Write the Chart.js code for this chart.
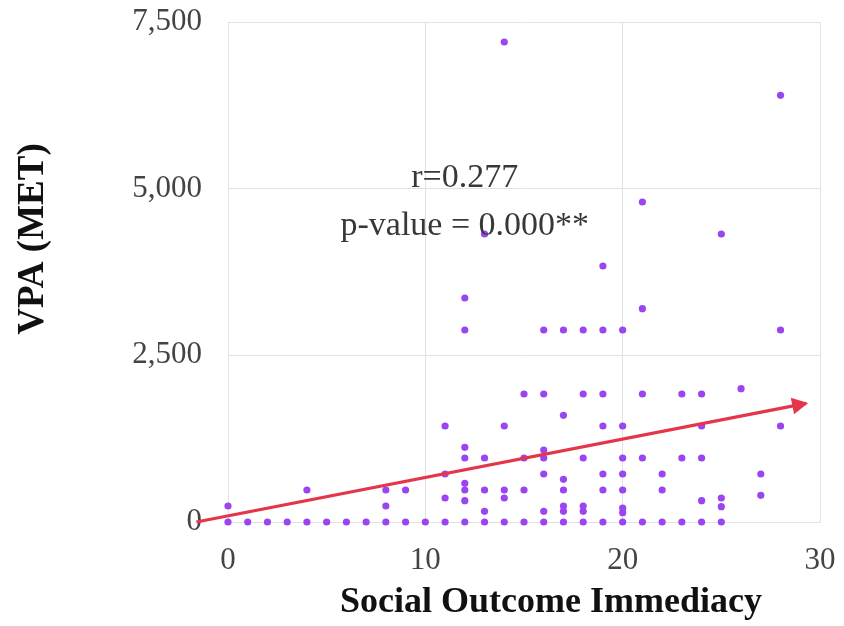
<!DOCTYPE html>
<html>
<head>
<meta charset="utf-8">
<script src="https://cdn.jsdelivr.net/npm/chart.js@4.4.1/dist/chart.umd.min.js"></script>
<style>
  html, body { margin: 0; padding: 0; background: #ffffff; }
  #wrap { width: 844px; height: 626px; position: relative; }
</style>
</head>
<body>
<div id="wrap"><canvas id="chart"></canvas></div>
<script>
// Social outcome immediacy score for each respondent
const immediacy = [
  0, 0,
  1, 2, 3,
  4, 4,
  5, 6, 7,
  8, 8, 8,
  9, 9,
  10,
  11, 11, 11, 11,
  12, 12, 12, 12, 12, 12, 12, 12,
  13, 13, 13, 13, 13,
  14, 14, 14, 14, 14,
  15, 15, 15, 15,
  16, 16, 16, 16, 16, 16, 16,
  17, 17, 17, 17, 17, 17, 17,
  18, 18, 18, 18, 18, 18,
  19, 19, 19, 19, 19, 19, 19,
  20, 20, 20, 20, 20, 20, 20, 20,
  21, 21, 21, 21, 21,
  22, 22, 22,
  23, 23, 23,
  24, 24, 24, 24, 24,
  25, 25, 25, 25,
  26,
  27, 27,
  28, 28, 28
];

// Vigorous physical activity (MET-minutes/week) for the same respondents
const vpa = [
  240, 0,
  0, 0, 0,
  480, 0,
  0, 0, 0,
  480, 240, 0,
  480, 0,
  0,
  1440, 720, 360, 0,
  3360, 2880, 1120, 960, 580, 480, 320, 0,
  4320, 960, 480, 160, 0,
  7200, 1440, 480, 360, 0,
  1920, 960, 480, 0,
  2880, 1920, 1080, 960, 720, 160, 0,
  2880, 1600, 640, 480, 240, 160, 0,
  2880, 1920, 960, 240, 160, 0,
  3840, 2880, 1920, 1440, 720, 480, 0,
  2880, 1440, 960, 720, 480, 210, 140, 0,
  4800, 3200, 1920, 960, 0,
  720, 480, 0,
  1920, 960, 0,
  1920, 1440, 960, 320, 0,
  4320, 360, 230, 0,
  2000,
  720, 400,
  6400, 2880, 1440
];

// Fitted trend, drawn as an arrow
const trendX = [-1.6, 29.3];
const trendY = [0, 1780];

// Axis ticks
const xTicks = [0, 10, 20, 30];
const yTicks = [0, 2500, 5000, 7500];

// Axis titles and correlation summary
const xTitle = 'Social Outcome Immediacy';
const yTitle = 'VPA (MET)';
const statLines = ['r=0.277', 'p-value = 0.000**'];

const points = immediacy.map((x, i) => ({ x: x, y: vpa[i] }));
const trend = trendX.map((x, i) => ({ x: x, y: trendY[i] }));

const SERIF = "'Liberation Serif', 'Times New Roman', Times, serif";
const PURPLE = '#9b45f2';
const RED = '#e5354a';
const GRID = '#e2e2e2';

// Arrowhead at the end of the trend line
const arrowHead = {
  id: 'arrowHead',
  afterDatasetsDraw(chart) {
    const pts = chart.getDatasetMeta(1).data;
    if (!pts || pts.length < 2) return;
    const a = pts[pts.length - 2], b = pts[pts.length - 1];
    const ang = Math.atan2(b.y - a.y, b.x - a.x);
    const len = 16, half = 8.5;
    const tx = b.x + Math.cos(ang) * 2, ty = b.y + Math.sin(ang) * 2;
    const ctx = chart.ctx;
    ctx.save();
    ctx.fillStyle = RED;
    ctx.beginPath();
    ctx.moveTo(tx, ty);
    ctx.lineTo(tx - len * Math.cos(ang) + half * Math.sin(ang), ty - len * Math.sin(ang) - half * Math.cos(ang));
    ctx.lineTo(tx - len * Math.cos(ang) - half * Math.sin(ang), ty - len * Math.sin(ang) + half * Math.cos(ang));
    ctx.closePath();
    ctx.fill();
    ctx.restore();
  }
};

// Correlation text inside the plot and both axis titles
const labels = {
  id: 'labels',
  afterDraw(chart) {
    const ctx = chart.ctx;
    const xs = chart.scales.x, ys = chart.scales.y;
    ctx.save();
    ctx.fillStyle = '#383838';
    ctx.font = '34px ' + SERIF;
    ctx.textAlign = 'center';
    ctx.textBaseline = 'alphabetic';
    const cx = xs.getPixelForValue(12);
    ctx.fillText(statLines[0], cx, ys.getPixelForValue(5020));
    ctx.fillText(statLines[1], cx, ys.getPixelForValue(4310));

    ctx.fillStyle = '#111111';
    ctx.font = 'bold 36px ' + SERIF;
    ctx.fillText(xTitle, 551, 612);

    ctx.translate(33, 239);
    ctx.rotate(-Math.PI / 2);
    ctx.font = 'bold 37px ' + SERIF;
    ctx.textBaseline = 'middle';
    ctx.fillText(yTitle, 0, 0);
    ctx.restore();
  }
};

function noOverflow(scale) {
  scale.paddingTop = 0;
  scale.paddingBottom = 0;
  scale.paddingLeft = 0;
  scale.paddingRight = 0;
}

new Chart(document.getElementById('chart'), {
  type: 'scatter',
  data: {
    datasets: [
      {
        data: points,
        backgroundColor: PURPLE,
        borderWidth: 0,
        pointRadius: 3.6,
        pointHoverRadius: 3.6,
        clip: false,
        order: 1
      },
      {
        type: 'line',
        data: trend,
        borderColor: RED,
        borderWidth: 3.2,
        borderCapStyle: 'butt',
        pointRadius: 0,
        showLine: true,
        fill: false,
        clip: false,
        order: 0
      }
    ]
  },
  options: {
    responsive: true,
    maintainAspectRatio: false,
    animation: false,
    events: [],
    layout: { padding: { top: 22, right: 24, left: 0, bottom: 0 } },
    plugins: {
      legend: { display: false },
      tooltip: { enabled: false }
    },
    scales: {
      x: {
        type: 'linear',
        min: 0,
        max: 30,
        afterBuildTicks(scale) { scale.ticks = xTicks.map(v => ({ value: v })); },
        afterFit(scale) { scale.height = 104; noOverflow(scale); },
        grid: { color: GRID, drawTicks: false },
        border: { color: GRID },
        ticks: {
          padding: 20,
          color: '#444444',
          font: { family: SERIF, size: 31 }
        }
      },
      y: {
        type: 'linear',
        min: 0,
        max: 7500,
        afterBuildTicks(scale) { scale.ticks = yTicks.map(v => ({ value: v })); },
        afterFit(scale) { scale.width = 228; noOverflow(scale); },
        grid: { color: GRID, drawTicks: false },
        border: { color: GRID },
        ticks: {
          padding: 26,
          color: '#444444',
          font: { family: SERIF, size: 31 },
          callback: v => v.toLocaleString('en-US')
        }
      }
    }
  },
  plugins: [arrowHead, labels]
});
</script>
</body>
</html>
